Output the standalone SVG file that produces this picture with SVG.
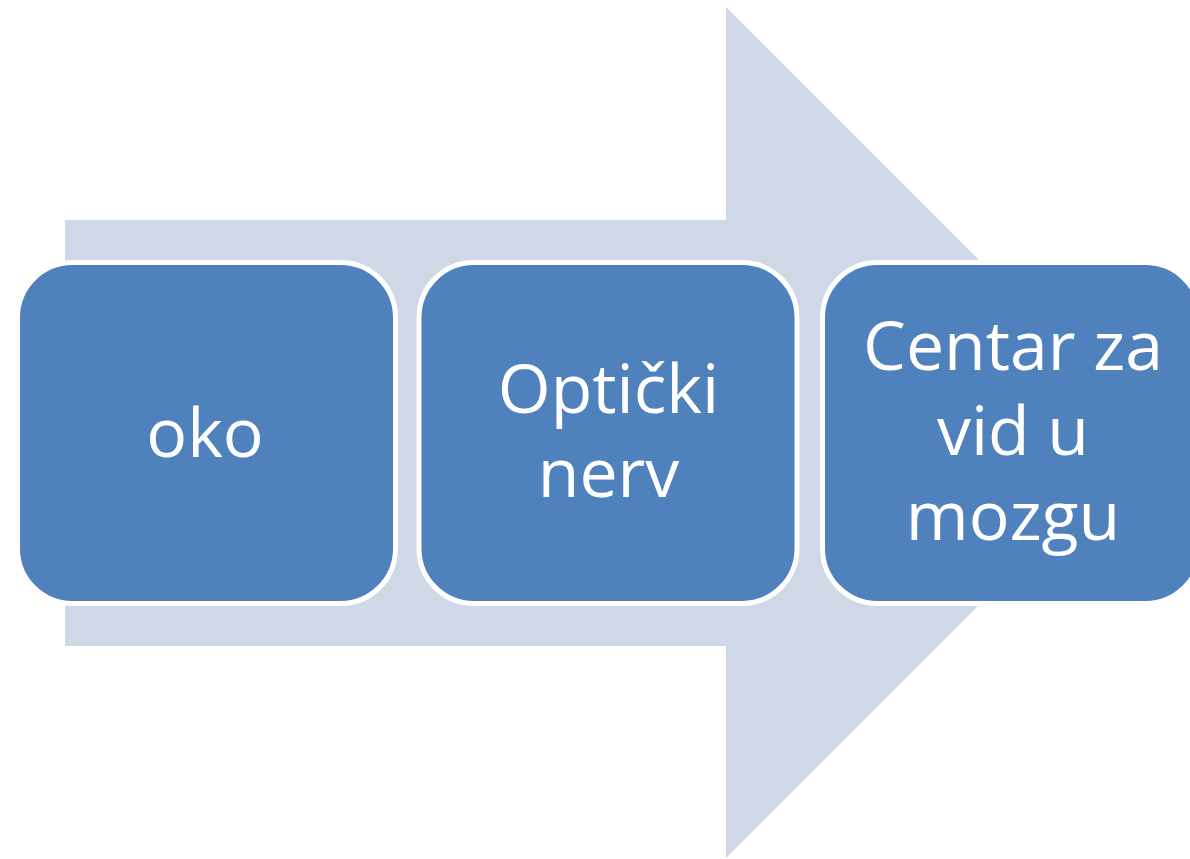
<svg xmlns="http://www.w3.org/2000/svg" width="1190" height="859" viewBox="0 0 1190 859">
<style>
.box{fill:#4F81BD;stroke:#FFFFFF;stroke-width:5}
.lbl{font-family:"Open Sans","Noto Sans","Liberation Sans",sans-serif;font-size:68px;fill:#FFFFFF;text-anchor:middle}
</style>
<rect x="0" y="0" width="1190" height="859" fill="#FFFFFF"/>
<g id="connectors">
<polygon points="65,220 726,220 726,7 1151.5,432.5 726,858 726,646 65,646" fill="#D0D8E8"/>
</g>
<g id="node-oko">
<rect class="box" x="17.5" y="262.5" width="378" height="341" rx="55" ry="55"/>
<text class="lbl" x="205" y="457">oko</text>
</g>
<g id="node-opticki">
<rect class="box" x="419" y="262.5" width="378" height="341" rx="55" ry="55"/>
<text class="lbl" x="608.5" y="413">Optički</text>
<text class="lbl" x="608.5" y="497">nerv</text>
</g>
<g id="node-centar">
<rect class="box" x="822.5" y="262.5" width="378" height="341" rx="55" ry="55"/>
<text class="lbl" x="1013" y="370">Centar za</text>
<text class="lbl" x="1013" y="455">vid u</text>
<text class="lbl" x="1013" y="540">mozgu</text>
</g>
</svg>
